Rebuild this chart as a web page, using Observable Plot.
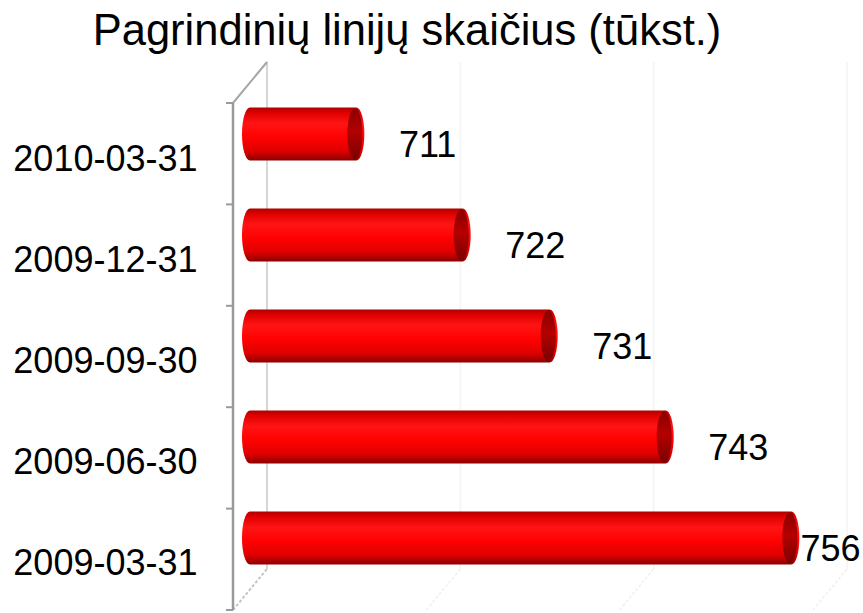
<!DOCTYPE html>
<html>
<head>
<meta charset="utf-8">
<script src="https://cdn.jsdelivr.net/npm/d3@7"></script>
<script src="https://cdn.jsdelivr.net/npm/@observablehq/plot@0.6"></script>
<style>
  html, body { margin: 0; padding: 0; background: #fff; }
  #wrap { position: relative; width: 863px; height: 613px; overflow: hidden; }
  #title { position: absolute; top: 9px; left: 0; width: 814px; text-align: center;
           font-family: "Liberation Sans", Arial, sans-serif; font-size: 43.5px; line-height: 1;
           white-space: nowrap; color: #000; z-index: 2; }
  #chart { position: absolute; top: 0; left: 0; }
</style>
</head>
<body>
<div id="wrap">
  <div id="title">Pagrindinių linijų skaičius (tūkst.)</div>
  <div id="chart"></div>
</div>
<script>
const titleText = "Pagrindinių linijų skaičius (tūkst.)";
const categories = ["2010-03-31", "2009-12-31", "2009-09-30", "2009-06-30", "2009-03-31"];
const values = [711, 722, 731, 743, 756];
const axisMin = 700;
const axisMax = 760;
const gridValues = [720, 740, 760];

const rows = categories.map((c, i) => ({date: c, value: values[i]}));

const W = 863, H = 613;
const depthX = 17, depthY = 41;

function el(tag, attrs) {
  const e = document.createElementNS("http://www.w3.org/2000/svg", tag);
  for (const k in attrs) e.setAttribute(k, attrs[k]);
  return e;
}

// 3D frame (walls, floor, axis) drawn from the scales
function frame(index, scales, vals, dims) {
  const g = el("g", {});
  const defs = el("defs", {});
  const grad = el("linearGradient", {id: "cylBody", x1: 0, y1: 0, x2: 0, y2: 1});
  [["0", "#b00000"], ["0.1", "#e00000"], ["0.3", "#ff1414"], ["0.55", "#ff0202"], ["0.82", "#e00000"], ["1", "#8c0000"]]
    .forEach(([o, c]) => grad.appendChild(el("stop", {offset: o, "stop-color": c})));
  const grad2 = el("linearGradient", {id: "cylCap", x1: 0, y1: 0, x2: 0, y2: 1});
  [["0", "#8a0000"], ["0.45", "#b40000"], ["1", "#7a0000"]]
    .forEach(([o, c]) => grad2.appendChild(el("stop", {offset: o, "stop-color": c})));
  defs.appendChild(grad); defs.appendChild(grad2);
  g.appendChild(defs);
  const x = scales.x;
  const y0 = dims.marginTop, y1 = dims.height - dims.marginBottom;
  const bw = (y1 - y0) / categories.length;
  const x0 = x(axisMin);
  const line = (a, b, c, d, stroke, sw, dash) => {
    const l = el("line", {x1: a, y1: b, x2: c, y2: d, stroke, "stroke-width": sw});
    if (dash) l.setAttribute("stroke-dasharray", dash);
    g.appendChild(l);
  };
  for (const v of gridValues) {
    const xv = x(v);
    line(xv + depthX, y0 - depthY, xv + depthX, y1 - depthY, "#f3f3f3", 1.5);
    line(xv - depthX, y1, xv + depthX, y1 - depthY, "#f0f0f0", 1.5, "3,2");
  }
  line(x0 + depthX, y0 - depthY, x0 + depthX, y1 - depthY, "#d6d6d6", 2);
  line(x0 - depthX, y1, x0 + depthX, y1 - depthY, "#c4c4c4", 2, "3,2");
  line(x0 - depthX, y0, x0 + depthX, y0 - depthY, "#a6a6a6", 2);
  line(x0 - depthX, y0, x0 - depthX, y1, "#9a9a9a", 2.5);
  for (let i = 0; i <= categories.length; i++) {
    line(x0 - depthX - 7, y0 + i * bw, x0 - depthX, y0 + i * bw, "#9a9a9a", 2);
  }
  return g;
}

const plot = Plot.plot({
  width: W,
  height: H,
  marginTop: 103,
  marginBottom: 3,
  marginLeft: 250,
  marginRight: 33,
  style: {fontFamily: "'Liberation Sans', Arial, sans-serif", fontSize: "36px", color: "#000", background: "transparent", overflow: "visible"},
  x: {domain: [axisMin, axisMax], axis: null},
  y: {domain: categories, padding: 0, axis: null},
  marks: [
    frame,
    Plot.barX(rows, {y: "date", x1: axisMin, x2: "value", fill: "url(#cylBody)",
      insetTop: 24, insetBottom: 24, insetLeft: -8, insetRight: -8, dy: -20.5, rx: 8, ry: 26.5}),
    Plot.barX(rows, {y: "date", x1: "value", x2: "value", fill: "url(#cylCap)",
      insetTop: 25, insetBottom: 25, insetLeft: -9, insetRight: -6, dy: -20.5, rx: 7.5, ry: 26}),
    Plot.text(rows, {y: "date", x: d => Math.min(d.value + 4.35, 756.9), text: d => String(d.value),
      textAnchor: "start", dy: -10, fontSize: 36, fill: "#000"}),
    Plot.text(categories, {y: d => d, frameAnchor: "left", textAnchor: "end", dx: -53, dy: 4,
      text: d => d, fontSize: 36, fill: "#000"})
  ]
});
document.getElementById("chart").appendChild(plot);
document.getElementById("title").textContent = titleText;
</script>
</body>
</html>
